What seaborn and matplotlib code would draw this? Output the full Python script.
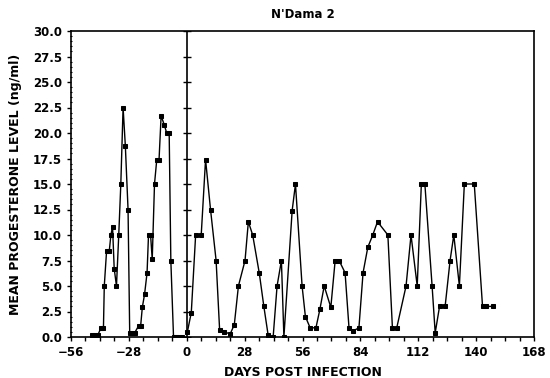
import numpy as np
import pandas as pd
import matplotlib
matplotlib.use("Agg")
import matplotlib.pyplot as plt
from matplotlib.ticker import MultipleLocator, FormatStrFormatter
import seaborn as sns

# days relative to infection, progesterone in ng/ml
pre_days = [-46, -44.5, -43, -41.5, -40.3, -39.9, -38.8, -37.5, -36.7, -35.9,
            -35.1, -34.0, -32.9, -31.9, -30.8, -29.7, -28.4, -27.6, -26.5, -25.2,
            -23.3, -22.3, -21.5, -20.4, -19.2, -18.5, -17.5, -16.7, -15.6, -14.5,
            -13.4, -12.4, -10.9, -9.7, -8.5, -7.7, -6.4, -5.3, -3.7, -2.1]
pre_vals = [0.2, 0.2, 0.2, 0.9, 0.9, 5.0, 8.4, 8.4, 10.0, 10.8,
            6.7, 5.0, 10.0, 15.0, 22.5, 18.7, 12.5, 0.4, 0.4, 0.4,
            1.1, 1.1, 2.9, 4.2, 6.3, 10.0, 10.0, 7.6, 15.0, 17.4,
            17.4, 21.7, 20.8, 20.0, 20.0, 7.5, 0.0, 0.0, 0.0, 0.0]

post_days = [0.3, 2.2, 4.3, 7.0, 9.1, 11.5, 14.2, 15.9, 18.2, 21.0,
             23.0, 25.0, 28.2, 29.8, 31.9, 35.1, 37.3, 39.4, 41.8, 43.7,
             45.8, 47.0, 51.0, 52.6, 55.8, 57.4, 59.7, 62.5, 64.4, 66.5,
             69.7, 71.8, 73.7, 76.6, 78.5, 80.5, 83.3, 85.3, 87.6, 90.0,
             92.3, 97.3, 99.5, 101.6, 106.1, 108.5, 111.5, 113.5, 115.2, 118.7,
             120.2, 122.3, 125.0, 127.4, 129.2, 131.9, 134.3, 139.1, 143.1, 144.6,
             148.3]
post_vals = [0.5, 2.4, 10.0, 10.0, 17.4, 12.5, 7.5, 0.7, 0.5, 0.3,
             1.2, 5.0, 7.5, 11.3, 10.0, 6.25, 3.0, 0.15, 0.0, 5.0,
             7.5, 0.0, 12.4, 15.0, 5.0, 2.0, 0.9, 0.9, 2.7, 5.0,
             2.9, 7.5, 7.5, 6.3, 0.9, 0.6, 0.9, 6.3, 8.8, 10.0,
             11.3, 10.0, 0.9, 0.9, 5.0, 10.0, 5.0, 15.0, 15.0, 5.0,
             0.4, 3.0, 3.0, 7.5, 10.0, 5.0, 15.0, 15.0, 3.0, 3.0,
             3.0]

x_ticks = [-56, -28, 0, 28, 56, 84, 112, 140, 168]

sns.set_style("ticks")
plt.rcParams["font.family"] = ["DejaVu Sans"]
plt.rcParams.update({"text.color": "black", "axes.labelcolor": "black",
                     "xtick.color": "black", "ytick.color": "black"})

fig, ax = plt.subplots(figsize=(5.5, 3.78), dpi=100)
fig.subplots_adjust(left=71 / 550, right=534 / 550, bottom=1 - 337 / 378, top=1 - 31 / 378)

pre = pd.DataFrame({"day": pre_days, "level": pre_vals})
post = pd.DataFrame({"day": post_days, "level": post_vals})
for df in (pre, post):
    sns.lineplot(data=df, x="day", y="level", ax=ax, color="black", lw=1.0,
                 marker="s", markersize=3.5, markeredgecolor="black")

# vertical axis at day 0 with its own ticks
ax.axvline(0, color="black", lw=1.2)
yt = np.arange(0, 30.01, 2.5)
ax.plot(np.zeros(len(yt)), yt, ls="none", marker="_", ms=6, mew=1.0, color="black")

ax.set_xlim(-56, 168)
ax.set_ylim(0, 30)
ax.set_xticks(x_ticks)
ax.xaxis.set_minor_locator(MultipleLocator(7))
ax.yaxis.set_major_locator(MultipleLocator(2.5))
ax.yaxis.set_minor_locator(MultipleLocator(0.5))
ax.yaxis.set_major_formatter(FormatStrFormatter("%.1f"))

ax.tick_params(axis="x", which="both", direction="out", length=3, width=1, labelsize=8.5)
ax.tick_params(axis="y", which="major", direction="out", length=3, width=1, labelsize=8.5)
ax.tick_params(axis="y", which="minor", direction="inout", length=2, width=0.8)
for lab in ax.get_xticklabels() + ax.get_yticklabels():
    lab.set_fontweight("bold")
for s in ax.spines.values():
    s.set_linewidth(1.2)
    s.set_color("black")

ax.set_title("N'Dama 2", fontsize=8.5, fontweight="bold", pad=9, color="black")
ax.set_xlabel("DAYS POST INFECTION", fontsize=9, fontweight="bold", labelpad=5)
ax.set_ylabel("MEAN PROGESTERONE LEVEL (ng/ml)", fontsize=9, fontweight="bold", labelpad=8)

fig.savefig("out.png", dpi=100)
